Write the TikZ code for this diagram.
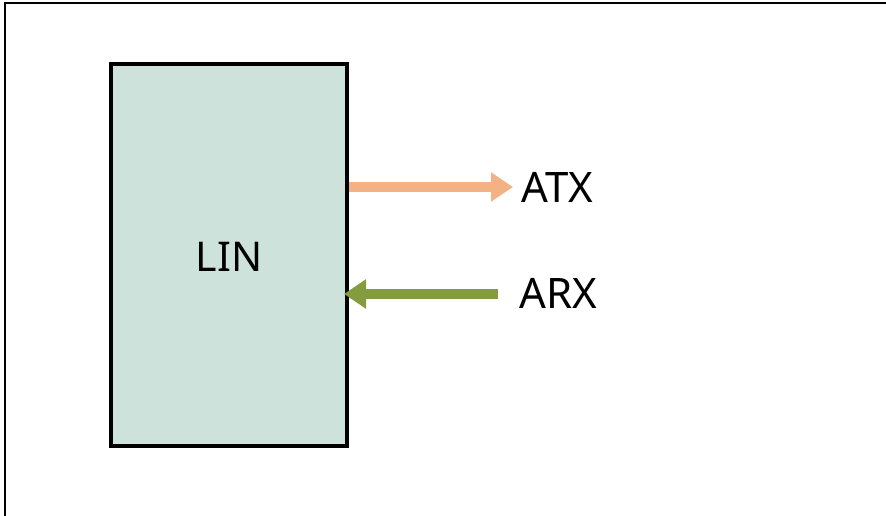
\documentclass[tikz,border=0pt]{standalone}
\usepackage{fontspec}
\setmainfont{Noto Sans}
\usetikzlibrary{arrows.meta}
\definecolor{boxfill}{HTML}{CDE2DA}
\definecolor{txarrow}{HTML}{F4B183}
\definecolor{rxarrow}{HTML}{849B40}
\tikzset{
  blockbox/.style={draw=black, line width=4pt, fill=boxfill, minimum width=236pt, minimum height=382pt, inner sep=0pt},
  siglabel/.style={anchor=west, font=\fontsize{42}{45}\selectfont, inner sep=0pt},
  sigarrow/.style={line width=10pt, -{Triangle[length=22pt,width=28pt]}}
}
\begin{document}
\begin{tikzpicture}[x=1pt,y=-1pt]
\useasboundingbox (0,0) rectangle (886,516);
\fill[white] (0,0) rectangle (886,516);
\draw[line width=2.5pt] (5,516) -- (5,3) -- (886,3);
\node[blockbox] (lin) at (229,255) {};
\node[font=\fontsize{41}{44}\selectfont] (lintext) at (229,257) {LIN};
\node[siglabel] (atx) at (521,187) {ATX};
\node[siglabel] (arx) at (519,293) {ARX};
\coordinate (atxs) at (349,187);
\coordinate (atxe) at (513,187);
\coordinate (arxs) at (498,294);
\coordinate (arxe) at (344,294);
\draw[sigarrow, draw=txarrow, fill=txarrow] (atxs) -- (atxe);
\draw[sigarrow, draw=rxarrow, fill=rxarrow] (arxs) -- (arxe);
\end{tikzpicture}
\end{document}
